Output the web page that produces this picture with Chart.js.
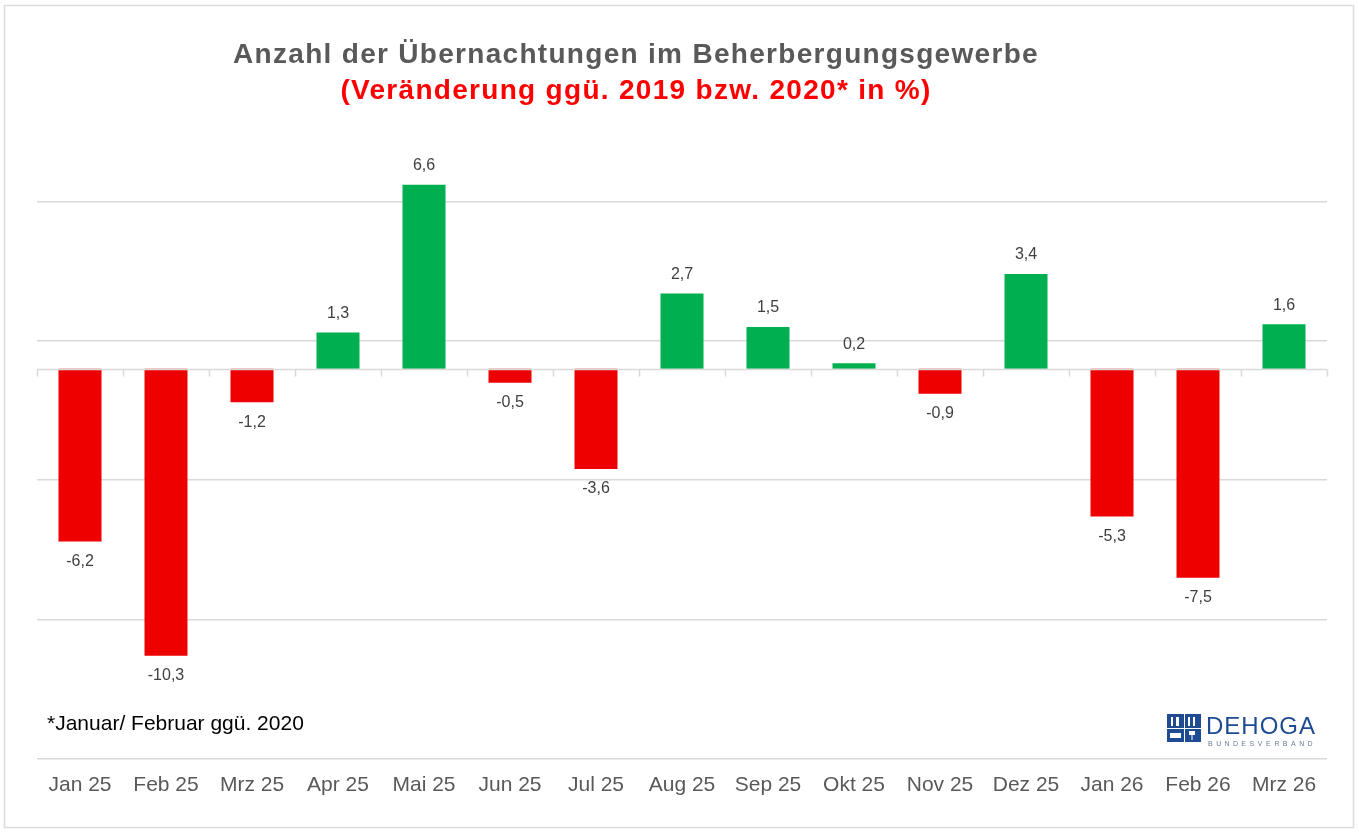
<!DOCTYPE html>
<html>
<head>
<meta charset="utf-8">
<script src="https://cdn.jsdelivr.net/npm/chart.js@4.4.1/dist/chart.umd.min.js"></script>
<style>
html,body{margin:0;padding:0;background:#fff;}
#wrap{width:1359px;height:832px;position:relative;}
</style>
</head>
<body>
<div id="wrap"><canvas id="c" width="1359" height="832"></canvas></div>
<script>
const categories = ["Jan 25","Feb 25","Mrz 25","Apr 25","Mai 25","Jun 25","Jul 25","Aug 25","Sep 25","Okt 25","Nov 25","Dez 25","Jan 26","Feb 26","Mrz 26"];
const values = [-6.2,-10.3,-1.2,1.3,6.6,-0.5,-3.6,2.7,1.5,0.2,-0.9,3.4,-5.3,-7.5,1.6];
const gridTicks = [-14,-9,-4,1,6];
const titleLine1 = "Anzahl der Übernachtungen im Beherbergungsgewerbe";
const titleLine2 = "(Veränderung ggü. 2019 bzw. 2020* in %)";
const footnote = "*Januar/ Februar ggü. 2020";

const FONT = "'Liberation Sans', Arial, sans-serif";

const decor = {
  id: 'decor',
  beforeDraw(chart) {
    const ctx = chart.ctx;
    ctx.save();
    ctx.fillStyle = '#fff';
    ctx.fillRect(0, 0, chart.width, chart.height);
    ctx.strokeStyle = '#dcdcdc';
    ctx.lineWidth = 1.5;
    ctx.strokeRect(4.5, 5.5, 1349, 822);
    ctx.restore();
  },
  afterDatasetsDraw(chart) {
    const ctx = chart.ctx;
    const x = chart.scales.x, y = chart.scales.y;
    const y0 = Math.round(y.getPixelForValue(0)) + 0.5;
    ctx.save();
    ctx.strokeStyle = '#d9d9d9';
    ctx.lineWidth = 1.5;
    ctx.beginPath();
    ctx.moveTo(chart.chartArea.left, y0);
    ctx.lineTo(chart.chartArea.right, y0);
    const step = x.getPixelForValue(1) - x.getPixelForValue(0);
    for (let i = 0; i <= categories.length; i++) {
      const px = Math.round(x.getPixelForValue(i) - step / 2) + 0.5;
      ctx.moveTo(px, y0);
      ctx.lineTo(px, y0 + 7);
    }
    ctx.stroke();
    ctx.fillStyle = '#404040';
    ctx.font = "16px " + FONT;
    ctx.textAlign = 'center';
    ctx.textBaseline = 'middle';
    const meta = chart.getDatasetMeta(0);
    meta.data.forEach((bar, i) => {
      const v = values[i];
      const txt = v.toFixed(1).replace('.', ',');
      const ty = v >= 0 ? bar.y - 19 : bar.y + 20;
      ctx.fillText(txt, bar.x, ty);
    });
    ctx.restore();
  },
  afterDraw(chart) {
    const ctx = chart.ctx;
    ctx.save();
    ctx.textAlign = 'center';
    ctx.textBaseline = 'alphabetic';
    ctx.font = "bold 28px " + FONT;
    ctx.letterSpacing = '1.3px';
    ctx.fillStyle = '#595959';
    ctx.fillText(titleLine1, 636, 63);
    ctx.fillStyle = '#ff0000';
    ctx.fillText(titleLine2, 636, 99);
    ctx.letterSpacing = '0px';
    ctx.textAlign = 'left';
    ctx.font = "21px " + FONT;
    ctx.fillStyle = '#000';
    ctx.fillText(footnote, 47, 730);
    // DEHOGA logo
    const blue = '#1f4b93';
    ctx.fillStyle = blue;
    ctx.fillRect(1167, 714, 34, 28);
    ctx.strokeStyle = '#fff';
    ctx.lineWidth = 1;
    ctx.beginPath();
    ctx.moveTo(1184.5, 714); ctx.lineTo(1184.5, 742);
    ctx.moveTo(1167, 728.5); ctx.lineTo(1201, 728.5);
    ctx.stroke();
    ctx.fillStyle = '#fff';
    ctx.fillRect(1171, 717, 2, 9);
    ctx.fillRect(1176, 717, 3, 9);
    ctx.fillRect(1188, 717, 2, 9);
    ctx.fillRect(1193, 717, 2, 9);
    ctx.fillRect(1170, 733, 11, 5);
    ctx.fillRect(1189, 731, 6, 4);
    ctx.fillRect(1191.5, 735, 1, 5);
    ctx.fillStyle = blue;
    ctx.font = "24px " + FONT;
    ctx.letterSpacing = '1px';
    ctx.fillText("DEHOGA", 1206, 734);
    ctx.letterSpacing = '0px';
    ctx.font = "7px " + FONT;
    ctx.fillStyle = '#6a7a99';
    const small = "BUNDESVERBAND";
    let sx = 1208;
    for (const ch of small) {
      ctx.fillText(ch, sx, 746);
      sx += 8.3;
    }
    ctx.restore();
  }
};

new Chart(document.getElementById('c'), {
  type: 'bar',
  data: {
    labels: categories,
    datasets: [{
      data: values,
      backgroundColor: values.map(v => v < 0 ? '#ee0000' : '#00b050'),
      borderWidth: 0,
      barPercentage: 0.5,
      categoryPercentage: 1.0
    }]
  },
  options: {
    responsive: false,
    animation: false,
    devicePixelRatio: 1,
    layout: { padding: { left: 37, right: 32, top: 118, bottom: 20 } },
    plugins: { legend: { display: false }, tooltip: { enabled: false }, title: { display: false } },
    scales: {
      x: {
        grid: { display: false, drawTicks: false },
        border: { display: false },
        ticks: { color: '#595959', font: { family: FONT, size: 21 }, padding: 14, maxRotation: 0, autoSkip: false }
      },
      y: {
        min: -14,
        max: 9,
        afterBuildTicks(axis) { axis.ticks = gridTicks.map(v => ({ value: v })); },
        ticks: { display: false },
        grid: { color: '#d9d9d9', lineWidth: 1.5, drawTicks: false },
        border: { display: false }
      }
    }
  },
  plugins: [decor]
});
</script>
</body>
</html>
